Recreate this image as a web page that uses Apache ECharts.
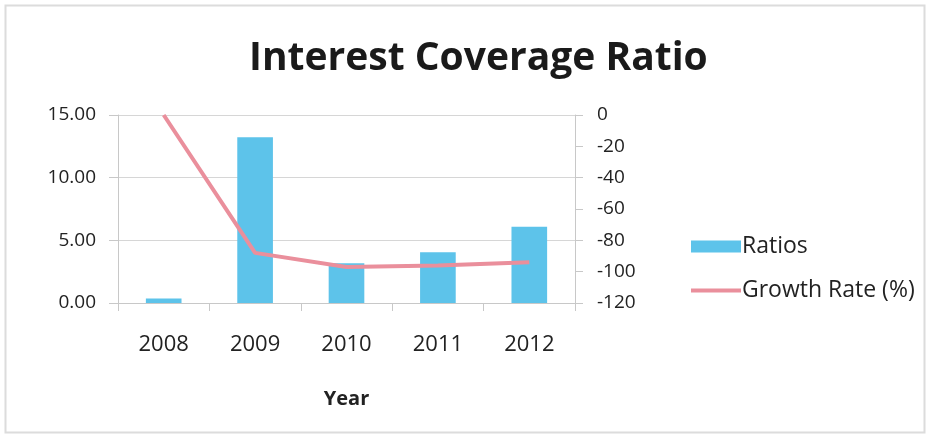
<!DOCTYPE html>
<html>
<head>
<meta charset="utf-8">
<script src="https://cdn.jsdelivr.net/npm/echarts@6/dist/echarts.min.js"></script>
<style>
  html, body { margin: 0; padding: 0; background: #ffffff; }
  #chart { width: 931px; height: 442px; }
</style>
</head>
<body>
<div id="chart"></div>
<script>
// Interest coverage ratio by year, with year-on-year growth rate
const years = ['2008', '2009', '2010', '2011', '2012'];
const ratios = [0.35, 13.22, 3.17, 4.05, 6.09];
const growthRate = [0, -88, -97, -96, -94];
const leftTicks = { min: 0, max: 15, interval: 5 };
const rightTicks = { min: -120, max: 0, interval: 20 };

const FONT = 'Open Sans';
const chart = echarts.init(document.getElementById('chart'), null, { renderer: 'canvas' });

chart.setOption({
  backgroundColor: '#ffffff',
  animation: false,
  textStyle: { fontFamily: FONT, color: '#222' },
  title: {
    text: 'Interest Coverage Ratio',
    left: 244,
    top: 34,
    textStyle: { fontFamily: FONT, fontSize: 39, fontWeight: 'bold', color: '#1a1a1a' }
  },
  graphic: [{
    type: 'rect',
    shape: { x: 5.5, y: 5.5, width: 919, height: 427 },
    style: { fill: 'none', stroke: '#dcdcdc', lineWidth: 2 },
    silent: true
  }],
  legend: {
    orient: 'vertical',
    left: 686,
    top: 230,
    itemWidth: 50,
    itemHeight: 12,
    itemGap: 21,
    textStyle: { fontFamily: FONT, fontSize: 23, color: '#222', padding: [0, 0, 0, -4] },
    data: [
      { name: 'Ratios', icon: 'rect' },
      { name: 'Growth Rate (%)', icon: 'path://M0,0 L50,0 L50,4 L0,4 Z' }
    ]
  },
  grid: { left: 118, right: 356, top: 115, bottom: 139, containLabel: false },
  xAxis: {
    type: 'category',
    data: years,
    name: 'Year',
    nameLocation: 'middle',
    nameGap: 86,
    nameTextStyle: { fontFamily: FONT, fontSize: 20, fontWeight: 'bold', color: '#222' },
    axisLine: { lineStyle: { color: '#c8c8c8', width: 1 } },
    axisTick: { show: true, length: 8, lineStyle: { color: '#c8c8c8' } },
    axisLabel: { fontFamily: FONT, fontSize: 22, color: '#222', margin: 31 }
  },
  yAxis: [{
    type: 'value',
    min: leftTicks.min,
    max: leftTicks.max,
    interval: leftTicks.interval,
    axisLine: { show: true, lineStyle: { color: '#c8c8c8' } },
    axisTick: { show: true, length: 9, lineStyle: { color: '#c8c8c8' } },
    splitLine: { show: true, lineStyle: { color: '#d6d6d6', width: 1 } },
    axisLabel: {
      fontFamily: FONT, fontSize: 19, color: '#222', margin: 22,
      formatter: v => v.toFixed(2)
    }
  }, {
    type: 'value',
    position: 'right',
    min: rightTicks.min,
    max: rightTicks.max,
    interval: rightTicks.interval,
    axisLine: { show: true, lineStyle: { color: '#c8c8c8' } },
    axisTick: { show: true, length: 8, lineStyle: { color: '#c8c8c8' } },
    splitLine: { show: false },
    axisLabel: { fontFamily: FONT, fontSize: 19, color: '#222', margin: 22 }
  }],
  series: [{
    name: 'Ratios',
    type: 'bar',
    yAxisIndex: 0,
    data: ratios,
    barWidth: '39%',
    itemStyle: { color: '#5dc3ea' }
  }, {
    name: 'Growth Rate (%)',
    type: 'line',
    yAxisIndex: 1,
    data: growthRate,
    symbol: 'none',
    lineStyle: { color: '#ea8f9c', width: 4 },
    itemStyle: { color: '#ea8f9c' }
  }]
});
</script>
</body>
</html>
